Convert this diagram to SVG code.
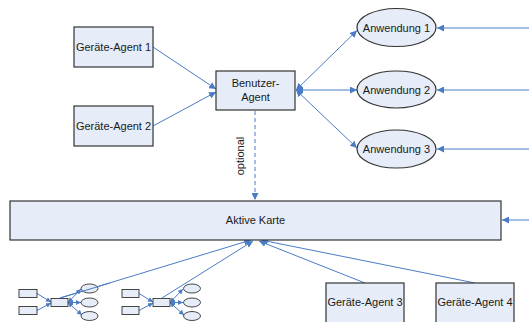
<svg xmlns="http://www.w3.org/2000/svg" width="529" height="322" viewBox="0 0 529 322">
  <defs>
    <marker id="arr" viewBox="0 0 10 10" refX="10" refY="5" markerWidth="7" markerHeight="7" markerUnits="userSpaceOnUse" orient="auto-start-reverse">
      <path d="M0,0 L10,5 L0,10 z" fill="#4a7cc6"/>
    </marker>
    <marker id="arrs" viewBox="0 0 10 10" refX="10" refY="5" markerWidth="5" markerHeight="5" markerUnits="userSpaceOnUse" orient="auto-start-reverse">
      <path d="M0,0 L10,5 L0,10 z" fill="#4a7cc6"/>
    </marker>
  </defs>
  <style>
    .box { fill: #e6edf8; stroke: #333333; stroke-width: 1.2; }
    .mini { fill: #e6edf8; stroke: #333333; stroke-width: 0.9; }
    .lbl { font-family: "Liberation Sans", Arial, sans-serif; font-size: 11px; fill: #1a1a1a; text-anchor: middle; }
    .con { stroke: #4a7cc6; stroke-width: 1; fill: none; }
    .uni { marker-end: url(#arr); }
    .bi { marker-start: url(#arr); marker-end: url(#arr); }
    .muni { marker-end: url(#arrs); }
    .mbi { marker-start: url(#arrs); marker-end: url(#arrs); }
  </style>
  <rect width="529" height="322" fill="#ffffff"/>

  <g id="connectors">
    <line class="con uni" x1="153" y1="47" x2="216" y2="89"/>
    <line class="con uni" x1="153" y1="126" x2="216" y2="92"/>
    <line class="con bi" x1="296" y1="90" x2="357" y2="30.5"/>
    <line class="con bi" x1="296" y1="90" x2="357" y2="90"/>
    <line class="con bi" x1="296" y1="90" x2="357" y2="148"/>
    <line class="con bi" x1="437" y1="28" x2="536" y2="28"/>
    <line class="con bi" x1="437" y1="90" x2="536" y2="90"/>
    <line class="con bi" x1="437" y1="149" x2="536" y2="149"/>
    <line class="con uni" x1="529" y1="220" x2="502" y2="220"/>
    <line class="con uni" x1="255" y1="111" x2="255" y2="200" stroke-dasharray="4,3"/>
    <line class="con uni" x1="60" y1="298" x2="251" y2="240"/>
    <line class="con uni" x1="162" y1="298" x2="253" y2="241"/>
    <line class="con uni" x1="365" y1="283" x2="259" y2="241"/>
    <line class="con uni" x1="475" y1="283" x2="261" y2="240"/>
    <!-- small sketches below the map -->
    <line class="con muni" x1="37" y1="293.5" x2="51" y2="302"/>
    <line class="con muni" x1="37" y1="310.5" x2="51" y2="303"/>
    <line class="con mbi" x1="68" y1="302.5" x2="81" y2="289"/>
    <line class="con mbi" x1="68" y1="302.5" x2="81" y2="302.5"/>
    <line class="con mbi" x1="68" y1="302.5" x2="82" y2="315"/>
    <line class="con muni" x1="139" y1="293.5" x2="153" y2="302"/>
    <line class="con muni" x1="139" y1="310.5" x2="153" y2="303"/>
    <line class="con mbi" x1="170" y1="302.5" x2="183" y2="289"/>
    <line class="con mbi" x1="170" y1="302.5" x2="183" y2="302.5"/>
    <line class="con mbi" x1="170" y1="302.5" x2="184" y2="315"/>
  </g>
  <text class="lbl" transform="translate(244,156) rotate(-90)">optional</text>

  <g id="geraete-agent-1">
    <rect class="box" x="74" y="27" width="79" height="40"/>
    <text class="lbl" x="113.5" y="51">Geräte-Agent 1</text>
  </g>
  <g id="geraete-agent-2">
    <rect class="box" x="74" y="106" width="79" height="40"/>
    <text class="lbl" x="113.5" y="130">Geräte-Agent 2</text>
  </g>
  <g id="benutzer-agent">
    <rect class="box" x="216" y="71" width="79" height="39"/>
    <text class="lbl" x="255.5" y="87">Benutzer-</text>
    <text class="lbl" x="255.5" y="101">Agent</text>
  </g>
  <g id="anwendung-1">
    <ellipse class="box" cx="396.5" cy="27.5" rx="39.5" ry="19"/>
    <text class="lbl" x="396.5" y="31.5">Anwendung 1</text>
  </g>
  <g id="anwendung-2">
    <ellipse class="box" cx="396.5" cy="89.5" rx="39.5" ry="18.5"/>
    <text class="lbl" x="396.5" y="93.5">Anwendung 2</text>
  </g>
  <g id="anwendung-3">
    <ellipse class="box" cx="396.5" cy="149" rx="39.5" ry="19"/>
    <text class="lbl" x="396.5" y="153">Anwendung 3</text>
  </g>
  <g id="aktive-karte">
    <rect class="box" x="10" y="201" width="491" height="39"/>
    <text class="lbl" x="255.5" y="223.5">Aktive Karte</text>
  </g>
  <g id="geraete-agent-3">
    <rect class="box" x="326" y="283" width="78" height="42"/>
    <text class="lbl" x="365" y="306">Geräte-Agent 3</text>
  </g>
  <g id="geraete-agent-4">
    <rect class="box" x="436" y="283" width="78" height="42"/>
    <text class="lbl" x="475" y="306">Geräte-Agent 4</text>
  </g>

  <g id="mini-sketch-1">
    <rect class="mini" x="19" y="289.5" width="18" height="8"/>
    <rect class="mini" x="19" y="306.5" width="18" height="8"/>
    <rect class="mini" x="51" y="298.5" width="17" height="8"/>
    <ellipse class="mini" cx="89.5" cy="288.5" rx="8.5" ry="4.5"/>
    <ellipse class="mini" cx="89.5" cy="302.5" rx="8.5" ry="4.5"/>
    <ellipse class="mini" cx="89.5" cy="316" rx="8.5" ry="4.5"/>
  </g>
  <g id="mini-sketch-2">
    <rect class="mini" x="122" y="289.5" width="17" height="8"/>
    <rect class="mini" x="122" y="306.5" width="17" height="8"/>
    <rect class="mini" x="153" y="298.5" width="17" height="8"/>
    <ellipse class="mini" cx="192" cy="288.5" rx="8.5" ry="4.5"/>
    <ellipse class="mini" cx="192" cy="302.5" rx="8.5" ry="4.5"/>
    <ellipse class="mini" cx="192" cy="316" rx="8.5" ry="4.5"/>
  </g>
  <!-- crossing line over the first sketch's top ellipse -->
  <line class="con" x1="60" y1="298" x2="110" y2="283"/>
</svg>
